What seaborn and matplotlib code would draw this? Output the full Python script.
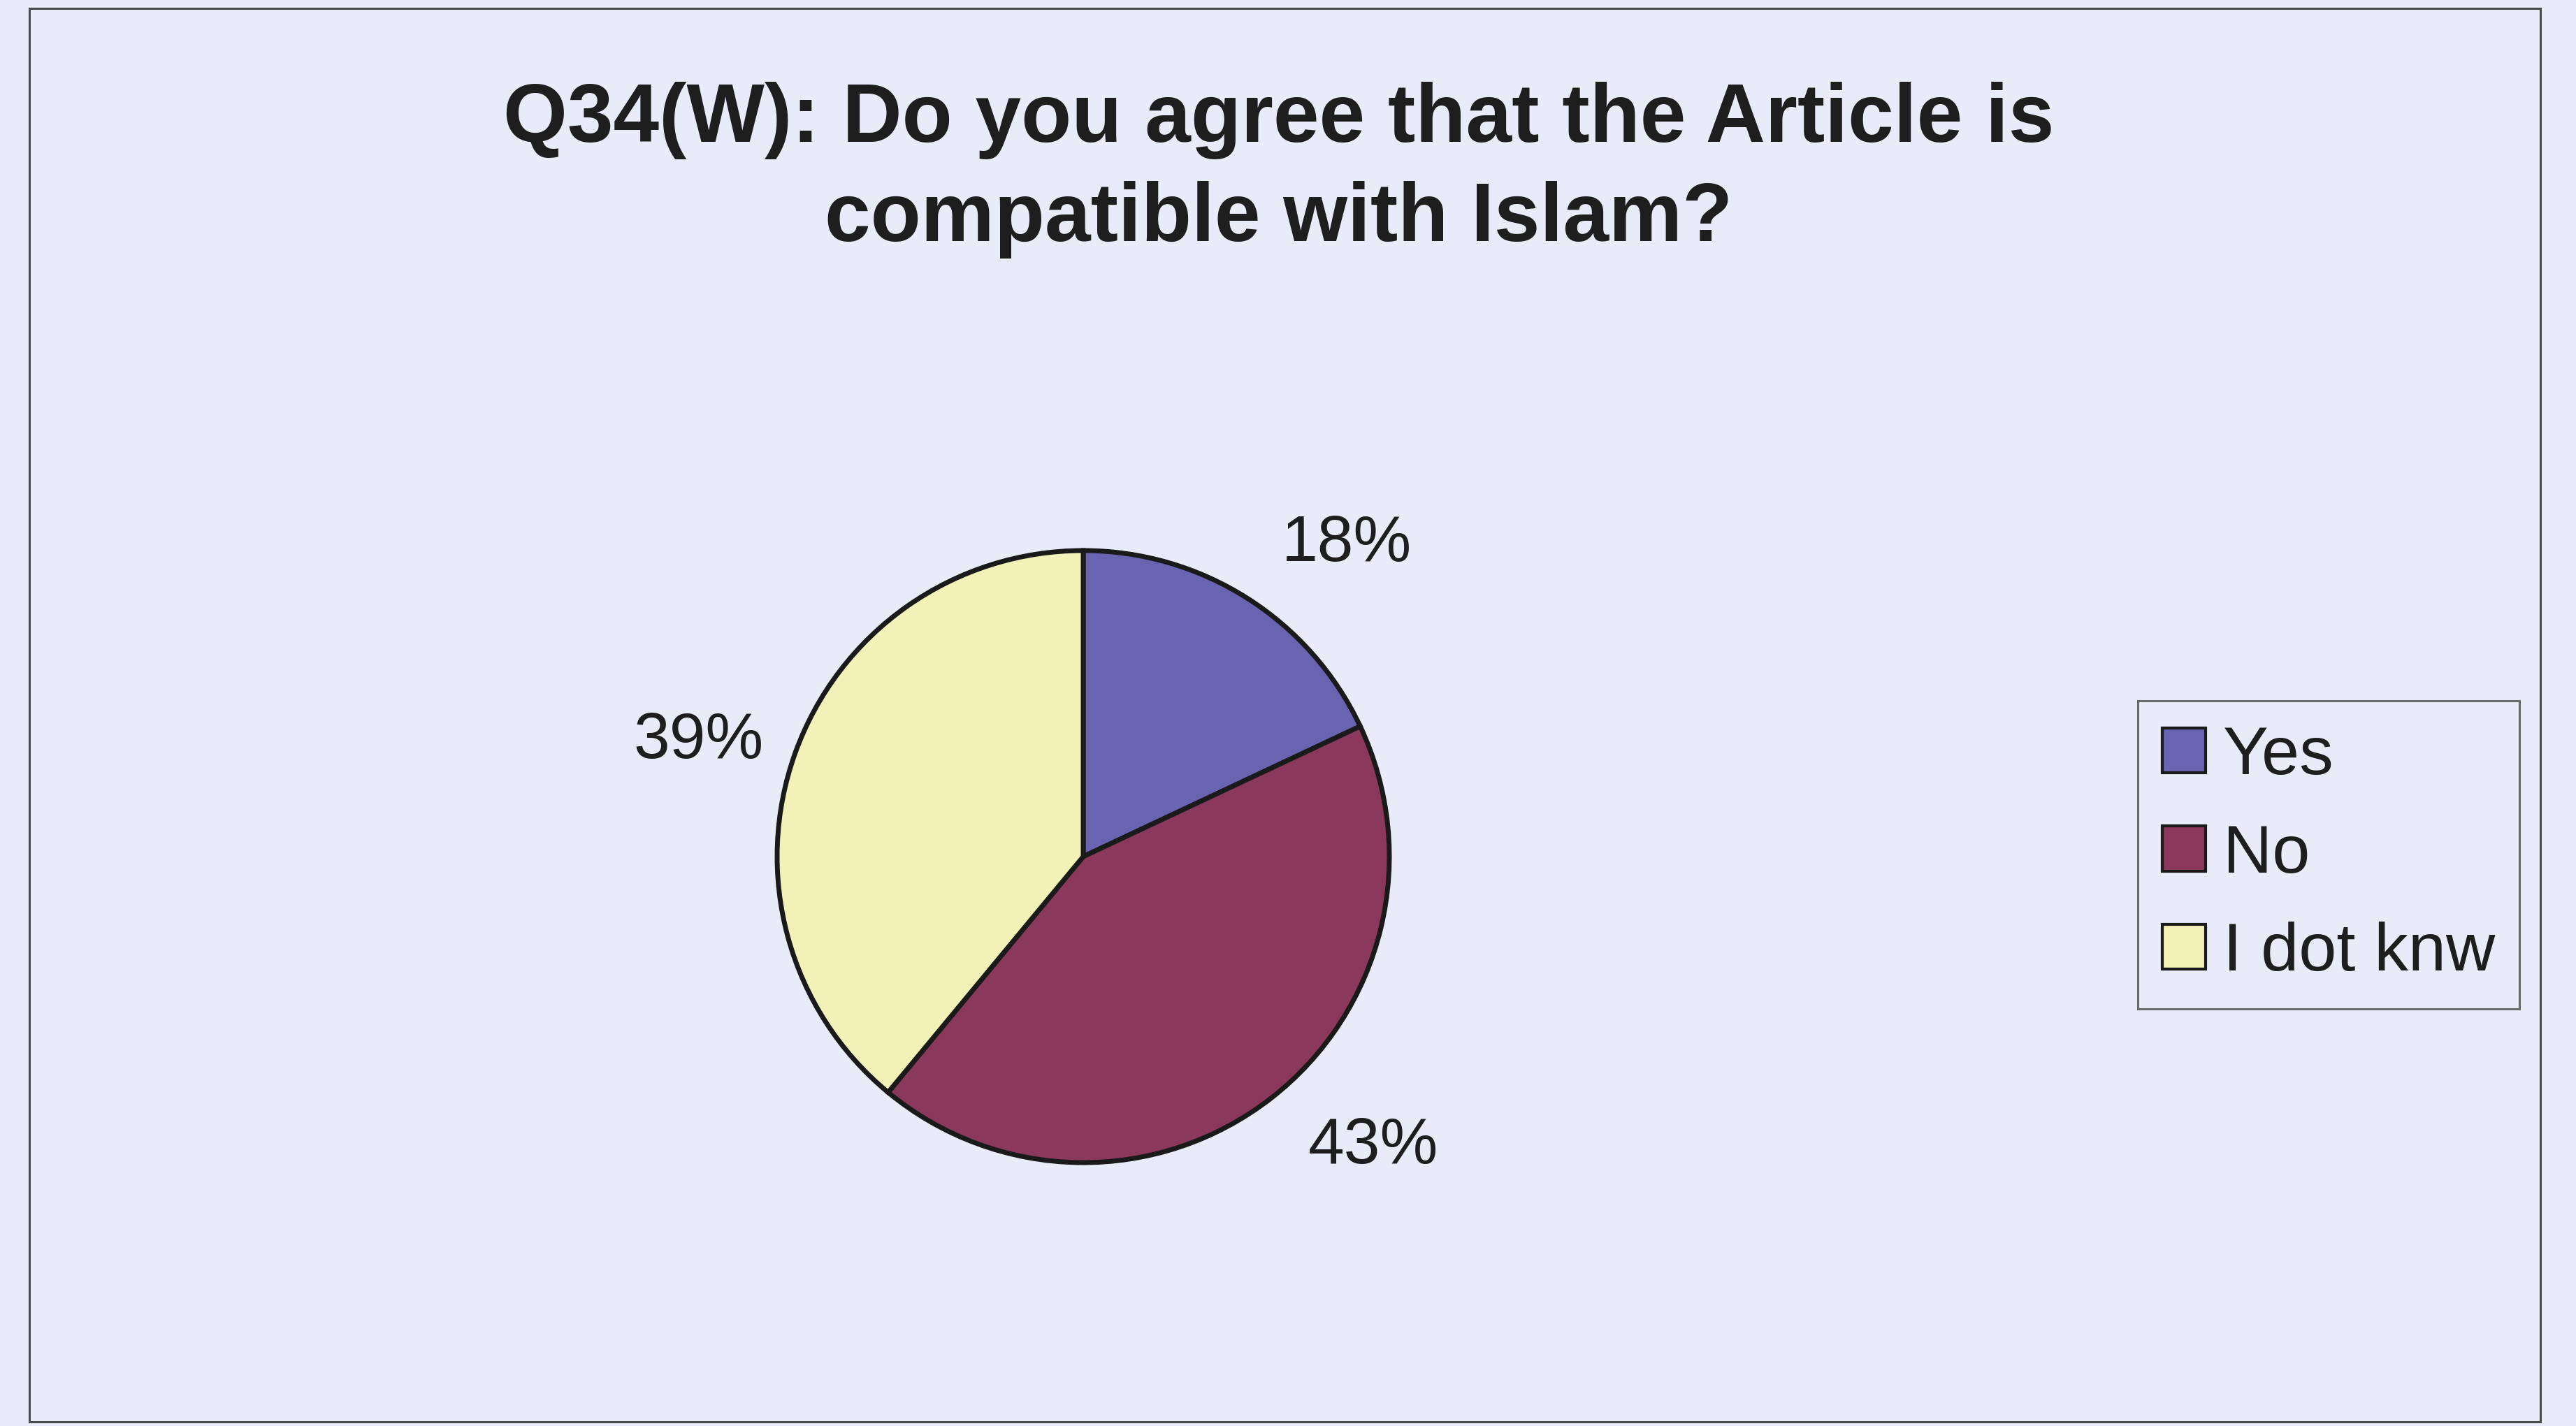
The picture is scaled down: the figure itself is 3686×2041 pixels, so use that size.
import matplotlib
matplotlib.use("Agg")
import numpy as np
import matplotlib.pyplot as plt
from matplotlib.patches import Rectangle, Patch
import seaborn as sns

# Survey answers (percent of respondents)
categories = ["Yes", "No", "I dot knw"]
percentages = [18, 43, 39]
slice_colors = ["#6864B0", "#8A385C", "#F1F1B8"]
title_lines = ["Q34(W): Do you agree that the Article is", "compatible with Islam?"]

W, H, DPI = 3686, 2041, 100
BG = "#E9ECF8"
INK = "#1E1E1E"

sns.set_theme(style="white")
plt.rcParams["font.family"] = ["Liberation Sans", "DejaVu Sans"]

fig = plt.figure(figsize=(W / DPI, H / DPI), dpi=DPI, facecolor=BG)

# outer chart frame
fig.patches.append(Rectangle((42 / W, 1 - 2035 / H), (3635 - 42) / W, (2035 - 12) / H,
                             transform=fig.transFigure, fill=False,
                             edgecolor="#4A4A4A", linewidth=2.2, zorder=0))

# title, two centred lines
for line, base in zip(title_lines, [203, 345]):
    fig.text(1830 / W, 1 - base / H, line, ha="center", va="baseline",
             fontsize=85, fontweight="bold", color=INK)

# pie
cx, cy, r = 1550, 1226, 438
ax = fig.add_axes([(cx - r) / W, (H - cy - r) / H, 2 * r / W, 2 * r / H])
ax.set_facecolor(BG)
pct_labels = [f"{p}%" for p in percentages]
wedges, texts = ax.pie(percentages, labels=pct_labels, colors=slice_colors,
                       startangle=90, counterclock=False, radius=1.0,
                       labeldistance=1.22,
                       wedgeprops=dict(edgecolor="#1A1A1A", linewidth=5),
                       textprops=dict(fontsize=67, color=INK))

# per-slice label distance from the centre
label_dist = [1.21, 1.20, 1.11]
for w, t, d in zip(wedges, texts, label_dist):
    mid = np.deg2rad((w.theta1 + w.theta2) / 2)
    t.set_position((d * np.cos(mid), d * np.sin(mid)))

ax.set_xlim(-1.0, 1.0)
ax.set_ylim(-1.0, 1.0)
ax.set_aspect("equal")
ax.axis("off")

# legend
handles = [Patch(facecolor=c, edgecolor="#1A1A1A", linewidth=3) for c in slice_colors]
leg = fig.legend(handles, categories, loc="upper left",
                 bbox_to_anchor=(3059 / W, 1 - 1003 / H), bbox_transform=fig.transFigure,
                 fontsize=70, frameon=True, fancybox=False, borderaxespad=0,
                 handlelength=0.64, handleheight=0.64, handletextpad=0.25,
                 labelspacing=0.52, borderpad=0.36)
leg.get_frame().set_facecolor(BG)
leg.get_frame().set_edgecolor("#4A4A4A")
leg.get_frame().set_linewidth(2.2)
for t in leg.get_texts():
    t.set_color(INK)

fig.savefig("out.png", dpi=DPI, facecolor=BG)
